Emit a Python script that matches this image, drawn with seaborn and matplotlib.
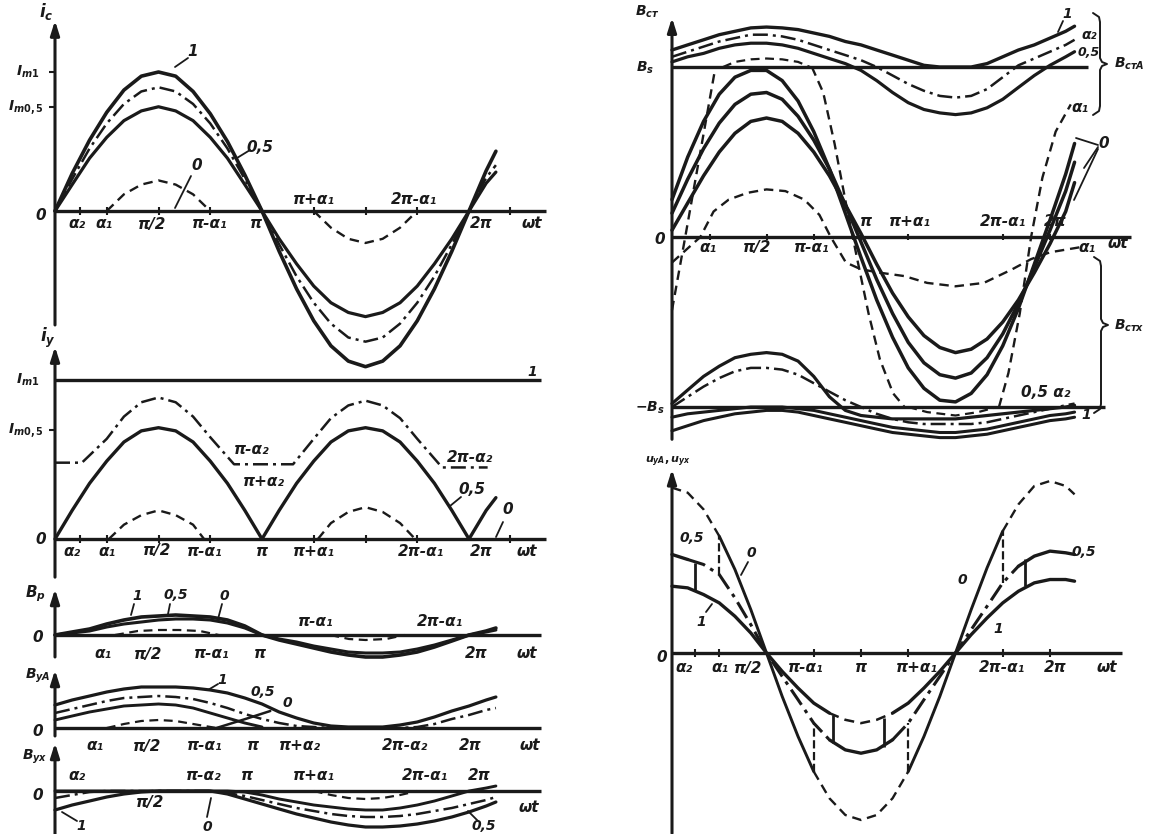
import numpy as np
import pandas as pd
import matplotlib
matplotlib.use('Agg')
import matplotlib.pyplot as plt
import seaborn as sns
from matplotlib.lines import Line2D

W, H = 1149, 834

# common abscissa grid (in units of pi)
WT = [0, 0.083, 0.167, 0.25, 0.333, 0.417, 0.5, 0.583, 0.667, 0.75, 0.833, 0.917, 1.0,
      1.083, 1.167, 1.25, 1.333, 1.417, 1.5, 1.583, 1.667, 1.75, 1.833, 1.917, 2.0, 2.083, 2.13]

# --- i_c panel (units of Im1)
IC_1 = [0, 0.27, 0.51, 0.71, 0.87, 0.97, 1.0, 0.97, 0.86, 0.70, 0.50, 0.26, 0, -0.29, -0.56, -0.79,
        -0.97, -1.08, -1.12, -1.08, -0.97, -0.79, -0.56, -0.29, 0, 0.29, 0.43]
IC_DD = [0, 0.23, 0.45, 0.63, 0.77, 0.86, 0.89, 0.86, 0.77, 0.63, 0.45, 0.23, 0, -0.24, -0.47, -0.66,
         -0.81, -0.91, -0.94, -0.91, -0.81, -0.66, -0.47, -0.24, 0, 0.24, 0.33]
IC_05 = [0, 0.19, 0.38, 0.53, 0.65, 0.72, 0.75, 0.72, 0.65, 0.53, 0.38, 0.19, 0, -0.20, -0.38, -0.54,
         -0.66, -0.73, -0.76, -0.73, -0.66, -0.54, -0.38, -0.20, 0, 0.20, 0.28]
IC_0_X = [0.25, 0.333, 0.417, 0.5, 0.583, 0.667, 0.75, None, 1.25, 1.333, 1.417, 1.5, 1.583, 1.667, 1.75]
IC_0 = [0, 0.12, 0.19, 0.22, 0.19, 0.12, 0, None, 0, -0.12, -0.20, -0.23, -0.20, -0.12, 0]
IC_TICKS = [0.12, 0.25, 0.5, 0.75, 1.25, 1.5, 1.75, 2.2]

# --- i_y panel
IY_05 = [0, 0.18, 0.35, 0.49, 0.61, 0.68, 0.70, 0.68, 0.61, 0.49, 0.35, 0.18, 0, 0.18, 0.35, 0.49,
         0.61, 0.68, 0.70, 0.68, 0.61, 0.49, 0.35, 0.18, 0, 0.18, 0.26]
IY_DD_X = [0, 0.13, 0.25, 0.333, 0.417, 0.5, 0.583, 0.667, 0.75, 0.865, 1.15, 1.25, 1.333, 1.417,
           1.5, 1.583, 1.667, 1.75, 1.87, 2.09]
IY_DD = [0.48, 0.48, 0.63, 0.77, 0.86, 0.89, 0.86, 0.77, 0.64, 0.47, 0.47, 0.63, 0.76, 0.84, 0.87,
         0.84, 0.76, 0.63, 0.45, 0.45]
IY_0_X = [0.26, 0.333, 0.417, 0.5, 0.583, 0.667, 0.72, None, 1.27, 1.333, 1.417, 1.5, 1.583, 1.667, 1.74]
IY_0 = [0, 0.09, 0.15, 0.18, 0.15, 0.09, 0, None, 0, 0.10, 0.17, 0.20, 0.17, 0.10, 0]
IY_IM1 = 1.0
IY_IM05 = 0.686
IY_TICKS = [0.12, 0.25, 0.5, 0.75, 1.25, 1.5, 1.75, 2.2]

# --- B_p panel (pixel units)
BP_1 = [0, 3, 6, 11, 15, 18, 19, 20, 19, 18, 15, 9, 0, -5, -9, -13, -17, -20, -22, -22, -20, -17,
        -12, -6, 0, 4, 7]
BP_05 = [0, 2, 4, 8, 11, 13, 15, 16, 16, 15, 12, 7, 0, -4, -7, -11, -14, -17, -18, -18, -17, -14,
         -10, -5, 0, 3, 5]
BP_0_X = [0.29, 0.4, 0.5, 0.6, 0.7, 0.79, None, 1.33, 1.42, 1.5, 1.6, 1.69]
BP_0 = [0, 4, 5, 5, 4, 0, None, 0, -4, -5, -4, 0]

# --- B_yA panel
BYA_1 = [23, 28, 32, 36, 39, 41, 41, 41, 40, 38, 35, 30, 24, 16, 10, 5, 2, 1, 1, 1, 3, 6, 11, 17,
         22, 28, 31]
BYA_05 = [15, 19, 23, 27, 30, 31, 32, 31, 29, 25, 20, 14, 9, 5, 2, 1, 0, 0, 0, 0, 0, 1, 4, 9, 13,
          18, 20]
BYA_Z = [8, 12, 16, 19, 22, 23, 24, 23, 20, 15, 10, 5, 1]
BYA_0_X = [0.25, 0.333, 0.417, 0.5, 0.583, 0.667, 0.78]
BYA_0 = [0, 4, 7, 8, 7, 4, 0]
BYA_LINK_X = [0.78, 0.92, 1.04]
BYA_LINK = [0, 9, 17]

# --- B_yx panel
BYX_1 = [-19, -14, -10, -6, -3, -1, 0, 0, 0, 0, -3, -8, -13, -18, -23, -27, -31, -34, -36, -36,
         -35, -33, -30, -26, -21, -15, -11]
BYX_05 = [-7, -4, -1, 0, 0, 0, 0, 0, 0, 0, -2, -5, -9, -13, -17, -20, -23, -25, -26, -26, -25, -23,
          -20, -17, -13, -9, -6]
BYX_Z = [0, 0, 0, 0, 0, 0, 0, 0, 0, 0, 0, -1, -4, -8, -11, -14, -16, -18, -19, -19, -17, -14, -10,
         -5, 0, 3, 5]
BYX_0_X = [1.25, 1.333, 1.417, 1.5, 1.583, 1.667, 1.75]
BYX_0 = [0, -4, -7, -8, -7, -4, 0]

# --- B_st panel (units of B_s)
T1 = [1.10, 1.13, 1.16, 1.19, 1.21, 1.23, 1.235, 1.23, 1.22, 1.20, 1.18, 1.15, 1.13, 1.10, 1.07,
      1.04, 1.01, 1.0, 1.0, 1.0, 1.02, 1.06, 1.10, 1.13, 1.17, 1.21, 1.24]
T2 = [1.06, 1.09, 1.12, 1.15, 1.17, 1.19, 1.19, 1.18, 1.16, 1.13, 1.10, 1.07, 1.04, 1.0, 0.95, 0.90,
      0.86, 0.83, 0.82, 0.83, 0.87, 0.94, 1.01, 1.05, 1.09, 1.13, 1.16]
T3 = [1.03, 1.06, 1.08, 1.11, 1.13, 1.14, 1.14, 1.13, 1.11, 1.08, 1.05, 1.02, 0.98, 0.92, 0.85, 0.79,
      0.75, 0.73, 0.72, 0.73, 0.76, 0.81, 0.88, 0.95, 1.01, 1.06, 1.09]
T_D_X = [0.27, 0.333, 0.417, 0.5, 0.583, 0.667, 0.73]
T_D = [1.0, 1.03, 1.045, 1.05, 1.045, 1.03, 1.0]
S1 = [0.22, 0.47, 0.68, 0.84, 0.94, 0.98, 0.98, 0.92, 0.80, 0.62, 0.40, 0.14, -0.12, -0.37, -0.59,
      -0.77, -0.89, -0.96, -0.97, -0.92, -0.81, -0.64, -0.42, -0.16, 0.10, 0.37, 0.55]
S2 = [0.14, 0.34, 0.52, 0.67, 0.78, 0.84, 0.85, 0.81, 0.71, 0.57, 0.40, 0.19, -0.03, -0.25, -0.45,
      -0.62, -0.74, -0.81, -0.83, -0.80, -0.71, -0.57, -0.39, -0.18, 0.04, 0.27, 0.44]
S3 = [0.04, 0.20, 0.36, 0.50, 0.61, 0.68, 0.70, 0.68, 0.61, 0.50, 0.36, 0.19, 0.02, -0.16, -0.33,
      -0.47, -0.58, -0.65, -0.68, -0.66, -0.60, -0.50, -0.37, -0.21, -0.04, 0.15, 0.32]
D1_X = [0, 0.07, 0.15, 0.23, None, 0.74, 0.8, 0.86, 0.92, 0.98, 1.04, 1.1, 1.17, 1.23, None,
        1.73, 1.78, 1.84, 1.9, 1.96, 2.03, 2.11]
D1 = [-0.43, 0, 0.5, 1.0, None, 1.0, 0.85, 0.55, 0.2, -0.13, -0.45, -0.72, -0.92, -1.0, None,
      -1.0, -0.8, -0.45, 0.0, 0.35, 0.62, 0.78]
D2_X = [0, 0.08, 0.15, 0.22, 0.3, 0.4, 0.5, 0.6, 0.7, 0.78, 0.84, 0.92, 1.0, 1.1, 1.23, 1.35, 1.5,
        1.65, 1.8, 1.9, 2.0, 2.16]
D2 = [-0.15, -0.07, 0.0, 0.15, 0.22, 0.26, 0.28, 0.27, 0.22, 0.13, 0.0, -0.15, -0.19, -0.21, -0.23,
      -0.27, -0.29, -0.27, -0.19, -0.13, -0.09, -0.06]
B_D_X = [1.25, 1.35, 1.5, 1.62, 1.72]
B_D = [-1.0, -1.03, -1.05, -1.03, -1.0]
L1 = [-0.98, -0.90, -0.82, -0.76, -0.71, -0.69, -0.68, -0.69, -0.73, -0.82, -0.94, -1.02, -1.05,
      -1.06, -1.07, -1.07, -1.07, -1.07, -1.07, -1.06, -1.05, -1.04, -1.03, -1.02, -1.01, -1.0, -0.99]
L2 = [-1.0, -0.94, -0.88, -0.83, -0.79, -0.77, -0.77, -0.78, -0.81, -0.86, -0.91, -0.96, -1.0,
      -1.04, -1.07, -1.09, -1.10, -1.10, -1.10, -1.10, -1.09, -1.07, -1.05, -1.03, -1.01, -0.99, -0.98]
L3 = [-1.06, -1.04, -1.03, -1.02, -1.01, -1.0, -1.0, -1.0, -1.01, -1.02, -1.04, -1.06, -1.08, -1.10,
      -1.12, -1.13, -1.14, -1.15, -1.15, -1.14, -1.13, -1.11, -1.09, -1.07, -1.05, -1.04, -1.03]
L4 = [-1.14, -1.11, -1.08, -1.06, -1.04, -1.03, -1.02, -1.02, -1.03, -1.05, -1.07, -1.09, -1.11,
      -1.13, -1.15, -1.16, -1.17, -1.18, -1.18, -1.17, -1.16, -1.14, -1.12, -1.10, -1.08, -1.07, -1.06]
BST_TICKS = [0.2, 0.5, 0.75, 1.0, 1.25, 1.75, 2.0]

# --- u_yA, u_yx panel
U0 = [0.99, 0.96, 0.86, 0.70, 0.50, 0.26, 0, -0.26, -0.50, -0.71, -0.87, -0.97, -1.0, -0.97, -0.87,
      -0.71, -0.50, -0.26, 0, 0.26, 0.51, 0.73, 0.89, 1.0, 1.03, 1.0, 0.95]
U05 = [0.59, 0.56, 0.53, 0.47, 0.33, 0.17, 0, -0.14, -0.28, -0.42, -0.52, -0.58, -0.60, -0.58,
       -0.52, -0.42, -0.28, -0.14, 0, 0.14, 0.28, 0.42, 0.52, 0.58, 0.61, 0.60, 0.59]
U1 = [0.40, 0.39, 0.35, 0.30, 0.22, 0.12, 0, -0.11, -0.21, -0.30, -0.36, -0.40, -0.42, -0.40, -0.36,
      -0.30, -0.21, -0.11, 0, 0.11, 0.21, 0.30, 0.37, 0.42, 0.44, 0.44, 0.43]
CS_X = [0.12, 0.85, 1.12, 1.87]
CS_TOP = [0.54, -0.37, -0.39, 0.56]
CS_BOT = [0.38, -0.54, -0.56, 0.40]
CD_X = [0.25, 0.75, 1.25, 1.75]
CD_TOP = [0.70, -0.42, -0.42, 0.73]
CD_BOT = [0.47, -0.71, -0.71, 0.42]
U_TICKS = [0.12, 0.25, 0.75, 1.0, 1.25, 1.75, 2.0]

DASH = (0, (4, 2.5))
DDOT = (0, (6, 2, 1.2, 2))

sns.set_theme(style='white')
plt.rcParams['font.family'] = ['DejaVu Sans']
plt.rcParams['mathtext.fontset'] = 'custom'
plt.rcParams['mathtext.it'] = 'DejaVu Sans:italic:bold'
plt.rcParams['mathtext.rm'] = 'DejaVu Sans:bold'
plt.rcParams['mathtext.bf'] = 'DejaVu Sans:bold'

fig = plt.figure(figsize=(W / 100, H / 100), dpi=100)
fig.patch.set_facecolor('white')
limits = {}


def panel(x0, y0, sx, sy, left, top, right, bottom):
    ax = fig.add_axes([left / W, 1 - bottom / H, (right - left) / W, (bottom - top) / H])
    limits[ax] = (((left - x0) / sx, (right - x0) / sx), ((y0 - bottom) / sy, (y0 - top) / sy))
    ax.set_xlim(*limits[ax][0])
    ax.set_ylim(*limits[ax][1])
    ax.set_axis_off()
    return ax


def frame(ax, ybot, ytop, xend, ticks=(), th=0.0):
    ax.annotate('', xy=(0, ytop), xytext=(0, ybot),
                arrowprops=dict(arrowstyle='-|>,head_length=0.7,head_width=0.22', lw=2.2,
                                color='k', shrinkA=0, shrinkB=0))
    ax.hlines(0, 0, xend, color='k', lw=2.4)
    if len(ticks):
        ax.vlines(ticks, -th, th, color='k', lw=1.5)


def curve(ax, x, y, ls='-', lw=2.2):
    seg_x, seg_y = [], []
    for a, b in list(zip(x, y)) + [(None, None)]:
        if a is None:
            if len(seg_x) > 1:
                sns.lineplot(x=seg_x, y=seg_y, ax=ax, color='k', linewidth=lw, linestyle=ls,
                             sort=False, estimator=None, legend=False, clip_on=False)
            seg_x, seg_y = [], []
        else:
            seg_x.append(a)
            seg_y.append(b)


def T(x, y, s, fs=11, ha='center'):
    fig.text(x / W, 1 - y / H, s, fontsize=fs, fontweight='bold', fontstyle='italic',
             ha=ha, va='center', color='k')


def lead(x1, y1, x2, y2):
    fig.add_artist(Line2D([x1 / W, x2 / W], [1 - y1 / H, 1 - y2 / H], color='k', lw=1.3))


def brace(x, ytop, ybot, ytip):
    pts = [(x - 7, ytop), (x - 1, ytop + 4), (x, ytop + 9), (x, ytip - 6), (x + 2, ytip - 2),
           (x + 7, ytip), (x + 2, ytip + 2), (x, ytip + 6), (x, ybot - 9), (x - 1, ybot - 4),
           (x - 7, ybot)]
    fig.add_artist(Line2D([p[0] / W for p in pts], [1 - p[1] / H for p in pts],
                          color='k', lw=1.4))


# ================= i_c =================
ax = panel(55, 211, 207, 139, 40, 5, 552, 375)
frame(ax, -0.82, 1.37, 2.37, IC_TICKS, 0.03)
ax.hlines([1.0, 0.75], -0.03, 0, color='k', lw=1.5)
curve(ax, WT, IC_1, '-', 2.6)
curve(ax, WT, IC_DD, DDOT, 1.8)
curve(ax, WT, IC_05, '-', 2.3)
curve(ax, IC_0_X, IC_0, DASH, 1.7)
T(46, 12, r'$i_c$', 12)
T(28, 72, r'$I_{m1}$', 10)
T(26, 107, r'$I_{m0,5}$', 10)
T(41, 215, '0')
for xp, s in [(77, 'α₂'), (104, 'α₁'), (152, 'π/2'), (210, 'π-α₁'), (256, 'π'), (481, '2π'),
              (532, 'ωt')]:
    T(xp, 224, s)
T(314, 199, 'π+α₁')
T(414, 199, '2π-α₁')
T(193, 52, '1')
T(260, 147, '0,5')
T(197, 166, '0')
lead(175, 67, 188, 58)
lead(237, 158, 250, 150)
lead(175, 208, 191, 176)

# ================= i_y =================
ax = panel(55, 539, 207, 159, 40, 335, 552, 582)
frame(ax, -0.24, 1.21, 2.37, IY_TICKS, 0.025)
ax.hlines(IY_IM1, 0, 2.35, color='k', lw=2.4)
ax.hlines(IY_IM05, -0.03, 0, color='k', lw=1.5)
curve(ax, WT, IY_05, '-', 2.4)
curve(ax, IY_DD_X, IY_DD, DDOT, 1.8)
curve(ax, IY_0_X, IY_0, DASH, 1.7)
T(48, 338, r'$i_y$', 12)
T(28, 380, r'$I_{m1}$', 10)
T(26, 430, r'$I_{m0,5}$', 10)
T(41, 540, '0')
for xp, s in [(72, 'α₂'), (107, 'α₁'), (157, 'π/2'), (205, 'π-α₁'), (262, 'π'), (314, 'π+α₁'),
              (421, '2π-α₁'), (481, '2π'), (527, 'ωt')]:
    T(xp, 551, s)
T(532, 372, '1', 10)
T(252, 449, 'π-α₂')
T(264, 482, 'π+α₂')
T(470, 457, '2π-α₂')
T(472, 490, '0,5')
lead(450, 506, 461, 497)
T(508, 510, '0')
lead(496, 537, 503, 522)

# ================= B_p =================
ax = panel(55, 635, 207, 1, 40, 585, 552, 662)
frame(ax, -22, 46, 2.35)
curve(ax, WT, BP_1, '-', 2.6)
curve(ax, WT, BP_05, '-', 2.2)
curve(ax, BP_0_X, BP_0, DASH, 1.6)
T(35, 594, r'$B_p$', 11)
T(38, 637, '0')
for xp, s in [(103, 'α₁'), (148, 'π/2'), (212, 'π-α₁'), (260, 'π'), (476, '2π'), (527, 'ωt')]:
    T(xp, 654, s)
T(316, 621, 'π-α₁')
T(440, 621, '2π-α₁')
T(137, 596, '1', 10)
T(176, 595, '0,5', 10)
T(224, 596, '0', 10)
lead(134, 604, 131, 615)
lead(170, 604, 168, 614)
lead(222, 604, 218, 619)

# ================= B_yA =================
ax = panel(55, 728, 207, 1, 40, 665, 552, 740)
frame(ax, -8, 58, 2.35)
curve(ax, WT, BYA_1, '-', 2.3)
curve(ax, WT, BYA_05, DDOT, 1.8)
curve(ax, WT[:len(BYA_Z)], BYA_Z, '-', 2.1)
curve(ax, BYA_0_X, BYA_0, DASH, 1.6)
curve(ax, BYA_LINK_X, BYA_LINK, '-', 1.8)
T(38, 676, r'$B_{yA}$', 10)
T(38, 731, '0')
for xp, s in [(95, 'α₁'), (147, 'π/2'), (205, 'π-α₁'), (253, 'π'), (300, 'π+α₂'),
              (405, '2π-α₂'), (470, '2π'), (530, 'ωt')]:
    T(xp, 746, s)
T(222, 680, '1', 10)
lead(208, 690, 218, 684)
T(263, 692, '0,5', 10)
T(287, 703, '0', 10)

# ================= B_yx =================
ax = panel(55, 791, 207, 1, 40, 740, 552, 834)
frame(ax, -43, 48, 2.35)
curve(ax, WT, BYX_1, '-', 2.3)
curve(ax, WT, BYX_05, DDOT, 1.8)
curve(ax, WT, BYX_Z, '-', 2.1)
curve(ax, BYX_0_X, BYX_0, DASH, 1.6)
T(35, 757, r'$B_{yx}$', 10)
T(38, 795, '0')
for xp, s in [(77, 'α₂'), (204, 'π-α₂'), (247, 'π'), (314, 'π+α₁'), (425, '2π-α₁'), (479, '2π')]:
    T(xp, 776, s)
T(150, 803, 'π/2')
T(529, 808, 'ωt')
T(81, 826, '1', 10)
lead(62, 812, 77, 821)
T(207, 827, '0', 10)
lead(211, 798, 207, 817)
T(484, 826, '0,5', 10)
lead(468, 811, 478, 821)

# ================= B_st =================
ax = panel(672, 237, 189, 170, 640, 2, 1149, 445)
frame(ax, -1.19, 1.29, 2.43, BST_TICKS, 0.02)
ax.hlines(1.0, 0, 2.2, color='k', lw=2.4)
ax.hlines(-1.0, 0, 2.29, color='k', lw=2.4)
for ser, ls, lw in [(T1, '-', 2.4), (T2, DDOT, 1.8), (T3, '-', 2.3), (S1, '-', 2.5), (S2, '-', 2.5),
                    (S3, '-', 2.5), (L1, '-', 2.3), (L2, DDOT, 1.8), (L3, '-', 2.2), (L4, '-', 2.2)]:
    curve(ax, WT, ser, ls, lw)
curve(ax, T_D_X, T_D, DASH, 1.6)
curve(ax, D1_X, D1, DASH, 1.7)
curve(ax, D2_X, D2, DASH, 1.7)
curve(ax, B_D_X, B_D, DASH, 1.6)
T(647, 12, r'$B_{ст}$', 10)
T(645, 68, r'$B_s$', 10)
T(660, 240, '0')
T(650, 408, r'$-B_s$', 10)
for xp, s in [(708, 'α₁'), (757, 'π/2'), (812, 'π-α₁')]:
    T(xp, 248, s)
for xp, s in [(866, 'π'), (910, 'π+α₁'), (1003, '2π-α₁'), (1055, '2π')]:
    T(xp, 221, s)
T(1118, 243, 'ωt')
T(1087, 248, 'α₁')
T(1080, 107, 'α₁')
T(1104, 143, '0')
lead(1098, 145, 1076, 138)
lead(1098, 147, 1084, 168)
lead(1098, 149, 1074, 200)
T(1067, 14, '1', 10)
lead(1063, 21, 1058, 32)
T(1089, 35, 'α₂', 10)
T(1089, 52, '0,5', 9)
T(1046, 393, '0,5 α₂')
T(1086, 415, '1', 10)
brace(1100, 13, 115, 64)
brace(1101, 257, 413, 325)
T(1129, 64, r'$B_{стA}$', 10)
T(1129, 326, r'$B_{стx}$', 10)

# ================= u_yA, u_yx =================
ax = panel(672, 653, 189, 167, 640, 455, 1149, 834)
frame(ax, -1.08, 1.10, 2.38, U_TICKS, 0.025)
curve(ax, WT[0:4], U0[0:4], DASH, 1.7)
curve(ax, WT[3:10], U0[3:10], '-', 2.1)
curve(ax, WT[9:16], U0[9:16], DASH, 1.7)
curve(ax, WT[15:22], U0[15:22], '-', 2.1)
curve(ax, WT[21:], U0[21:], DASH, 1.7)
curve(ax, WT[0:2], U05[0:2], '-', 2.4)
curve(ax, WT[1:11], U05[1:11], DDOT, 2.2)
curve(ax, WT[10:15], U05[10:15], '-', 2.4)
curve(ax, WT[14:23], U05[14:23], DDOT, 2.2)
curve(ax, WT[22:], U05[22:], '-', 2.4)
curve(ax, WT[0:11], U1[0:11], '-', 2.4)
curve(ax, WT[10:15], U1[10:15], DASH, 1.8)
curve(ax, WT[14:], U1[14:], '-', 2.4)
ax.vlines(CS_X, CS_BOT, CS_TOP, color='k', lw=2.0)
ax.vlines(CD_X, CD_BOT, CD_TOP, color='k', lw=1.6, linestyles='dashed')
T(668, 462, r'$u_{yA}, u_{yx}$', 8)
T(662, 657, '0')
for xp, s in [(684, 'α₂'), (720, 'α₁'), (748, 'π/2'), (806, 'π-α₁'), (861, 'π'), (917, 'π+α₁'),
              (1002, '2π-α₁'), (1055, '2π'), (1107, 'ωt')]:
    T(xp, 668, s)
T(692, 538, '0,5', 10)
T(751, 553, '0', 10)
lead(741, 575, 748, 562)
T(701, 622, '1', 10)
lead(706, 612, 712, 604)
T(962, 580, '0', 10)
T(1084, 552, '0,5', 10)
T(998, 629, '1', 10)

for a, (xl, yl) in limits.items():
    a.set_xlim(*xl)
    a.set_ylim(*yl)

fig.savefig('out.png', dpi=100, facecolor='white')
